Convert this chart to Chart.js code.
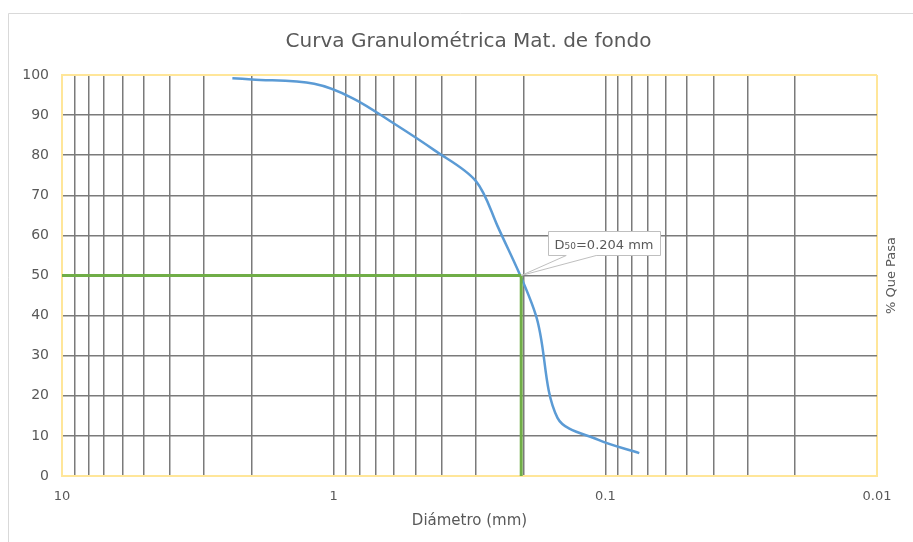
<!DOCTYPE html>
<html>
<head>
<meta charset="utf-8">
<script src="https://cdn.jsdelivr.net/npm/chart.js@4.4.1/dist/chart.umd.min.js"></script>
<style>
  html, body { margin: 0; padding: 0; background: #fff; }
</style>
</head>
<body>
<canvas id="myChart" width="913" height="542"></canvas>
<script>
// datos de la curva
const diametros = [2.36, 2.0, 1.18, 0.85, 0.6, 0.425, 0.3, 0.25, 0.18, 0.15, 0.106, 0.075];
const pasa = [99.2, 98.9, 97.8, 94.2, 87.9, 81.2, 73.6, 62.5, 40.0, 14.5, 9.0, 5.7];
const d50 = 0.204;
const y50 = 50;
const valoresX = [10, 1, 0.1, 0.01];
const etiquetasX = ["10", "1", "0.1", "0.01"];
const titulo = "Curva Granulométrica Mat. de fondo";
const tituloX = "Diámetro (mm)";
const tituloY = "% Que Pasa";
const textoD50 = "=0.204 mm";

const gris = "#7a7a7a";
const amarillo = "#FFE699";
const texto = "#595959";
const verde = "#70AD47";
const fuente = "'DejaVu Sans'";

// lineas verticales del log: 1..9 x 10^e
let lineasX = [];
for (let e = -2; e < 1; e++) {
  for (let k = 1; k < 10; k++) {
    lineasX.push(Number((k * Math.pow(10, e)).toPrecision(4)));
  }
}
lineasX.push(10);

const esBorde = (v, lista) => lista.some((b) => Math.abs(v - b) < b * 1e-6 + 1e-12);

const extras = {
  id: "extras",
  beforeDraw(chart) {
    const c = chart.ctx;
    c.save();
    c.fillStyle = "#fff";
    c.fillRect(0, 0, chart.width, chart.height);
    c.strokeStyle = "#d9d9d9";
    c.lineWidth = 1;
    c.beginPath();
    c.moveTo(8.5, chart.height);
    c.lineTo(8.5, 13.5);
    c.lineTo(chart.width, 13.5);
    c.stroke();
    c.restore();
  },
  afterDraw(chart) {
    const c = chart.ctx;
    const a = chart.chartArea;
    c.save();
    c.fillStyle = texto;
    c.textAlign = "center";
    c.textBaseline = "middle";
    c.font = "20px " + fuente;
    c.fillText(titulo, (a.left + a.right) / 2 - 1, 42);
    c.save();
    c.translate(892, (a.top + a.bottom) / 2);
    c.rotate(-Math.PI / 2);
    c.font = "13px " + fuente;
    c.fillText(tituloY, 0, 0);
    c.restore();

    // etiqueta D50
    const px = chart.scales.x.getPixelForValue(d50);
    const py = chart.scales.y.getPixelForValue(y50);
    const bx = Math.round(px + 27) + 0.5;
    const by = Math.round(py - 45) + 0.5;
    const bw = 112, bh = 24;
    c.beginPath();
    c.moveTo(bx, by);
    c.lineTo(bx + bw, by);
    c.lineTo(bx + bw, by + bh);
    c.lineTo(px + 75, by + bh);
    c.lineTo(px, py);
    c.lineTo(px + 45, by + bh);
    c.lineTo(bx, by + bh);
    c.closePath();
    c.fillStyle = "#fff";
    c.fill();
    c.strokeStyle = "#bfbfbf";
    c.lineWidth = 1;
    c.stroke();

    c.fillStyle = texto;
    c.textAlign = "left";
    c.textBaseline = "alphabetic";
    let tx = bx + 6;
    const ty = by + 17;
    c.font = "13px " + fuente;
    c.fillText("D", tx, ty);
    tx += c.measureText("D").width;
    c.font = "9px " + fuente;
    c.fillText("50", tx, ty);
    tx += c.measureText("50").width;
    c.font = "13px " + fuente;
    c.fillText(textoD50, tx, ty);
    c.restore();
  }
};

const ctx = document.getElementById("myChart");

new Chart(ctx, {
  type: "line",
  data: {
    datasets: [
      {
        label: "D50 horizontal",
        data: [
          { x: valoresX[0], y: y50 },
          { x: d50, y: y50 }
        ],
        borderColor: verde,
        borderWidth: 3,
        pointRadius: 0,
        tension: 0
      },
      {
        label: "D50 vertical",
        data: [
          { x: d50, y: y50 },
          { x: d50, y: 0 }
        ],
        borderColor: verde,
        borderWidth: 3,
        pointRadius: 0,
        tension: 0,
        clip: { left: 0, top: 0, right: 0, bottom: 0 }
      },
      {
        label: "% Que Pasa",
        data: diametros.map((d, i) => ({ x: d, y: pasa[i] })),
        borderColor: "#5B9BD5",
        borderWidth: 2.5,
        pointRadius: 0,
        tension: 0.33
      }
    ]
  },
  options: {
    responsive: false,
    animation: false,
    layout: { padding: { left: 0, top: 75, right: 36, bottom: 0 } },
    plugins: {
      legend: { display: false },
      tooltip: { enabled: false },
      title: { display: false }
    },
    scales: {
      x: {
        type: "logarithmic",
        reverse: true,
        min: 0.01,
        max: 10,
        afterBuildTicks: (s) => {
          s.ticks = lineasX.map((v) => ({ value: v }));
        },
        afterFit: (s) => {
          s.height = 66;
        },
        grid: {
          drawTicks: false,
          color: (c) => (esBorde(c.tick.value, [10, 0.01]) ? amarillo : gris),
          lineWidth: (c) => (esBorde(c.tick.value, [10, 0.01]) ? 2 : 1.5)
        },
        border: { color: amarillo, width: 2 },
        ticks: {
          autoSkip: false,
          maxRotation: 0,
          padding: 13,
          color: texto,
          font: { family: fuente, size: 13 },
          callback: (v) => {
            const i = valoresX.findIndex((t) => Math.abs(t - v) < t * 1e-6);
            return i >= 0 ? etiquetasX[i] : "";
          }
        },
        title: {
          display: true,
          text: tituloX,
          color: texto,
          font: { family: fuente, size: 15 },
          padding: { top: 0, bottom: 12 }
        }
      },
      y: {
        min: 0,
        max: 100,
        afterFit: (s) => {
          s.width = 62;
        },
        grid: {
          drawTicks: false,
          color: (c) => (esBorde(c.tick.value, [100]) || c.tick.value === 0 ? amarillo : gris),
          lineWidth: (c) => (esBorde(c.tick.value, [100]) || c.tick.value === 0 ? 2 : 1.5)
        },
        border: { color: amarillo, width: 2 },
        ticks: {
          stepSize: 10,
          padding: 13,
          color: texto,
          font: { family: fuente, size: 14 }
        }
      }
    }
  },
  plugins: [extras]
});
</script>
</body>
</html>
